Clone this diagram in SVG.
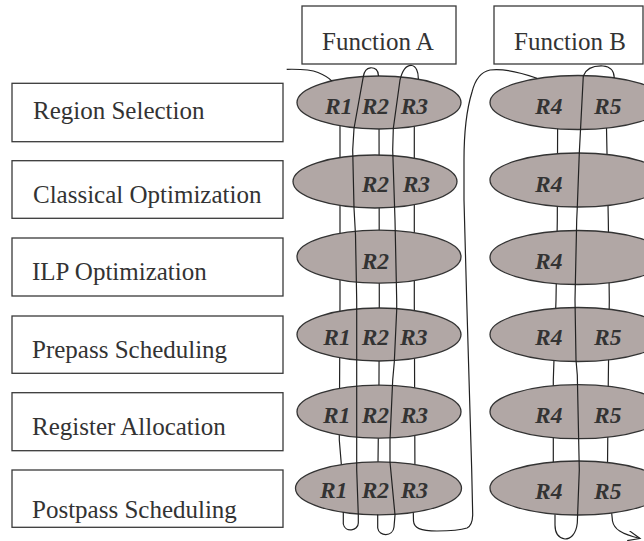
<svg xmlns="http://www.w3.org/2000/svg" width="644" height="541" viewBox="0 0 644 541">
<style>
.box{fill:#fff;stroke:#3a3a3a;stroke-width:1.3}
.lbl{font-family:"Liberation Serif","Times New Roman",serif;font-size:25px;fill:#333}
.reg{fill:#b1a7a5;stroke:#333;stroke-width:1.3}
.rt{font-family:"Liberation Serif","Times New Roman",serif;font-size:23.5px;font-weight:bold;font-style:italic;fill:#333}
.ln{fill:none;stroke:#222;stroke-width:1.2}
</style>
<defs>
<marker id="arr" markerUnits="userSpaceOnUse" markerWidth="14" markerHeight="12" refX="12" refY="5" orient="auto">
<path d="M0,0 L12,5 L0,10" fill="none" stroke="#222" stroke-width="1.2"/>
</marker>
</defs>

<g id="function-a"><rect class="box" x="302" y="6" width="154" height="58"/><text class="lbl" x="322" y="50">Function A</text></g>
<g id="function-b"><rect class="box" x="494" y="6" width="149" height="58"/><text class="lbl" x="514" y="50">Function B</text></g>

<g id="region-selection"><rect class="box" x="12" y="83.3" width="271" height="58.4"/><text class="lbl" x="33" y="119.3">Region Selection</text></g>
<g id="classical-optimization"><rect class="box" x="12" y="160.7" width="271" height="57.6"/><text class="lbl" x="33" y="203.3">Classical Optimization</text></g>
<g id="ilp-optimization"><rect class="box" x="12" y="238" width="271" height="58"/><text class="lbl" x="32" y="280">ILP Optimization</text></g>
<g id="prepass-scheduling"><rect class="box" x="12" y="316" width="271" height="57.3"/><text class="lbl" x="32" y="358">Prepass Scheduling</text></g>
<g id="register-allocation"><rect class="box" x="12" y="392.7" width="271" height="58"/><text class="lbl" x="32" y="435">Register Allocation</text></g>
<g id="postpass-scheduling"><rect class="box" x="12" y="470" width="271" height="57.3"/><text class="lbl" x="32" y="518">Postpass Scheduling</text></g>

<g id="connectors-behind">
<path class="ln" d="M340 102 L340 300 L339.3 440 L343.3 488"/>
<path class="ln" d="M379 102 L379.3 300 L379 380 L377.7 488"/>
<path class="ln" d="M414.3 102 L414.3 300 L415 488"/>
<path class="ln" d="M557.7 102 L557.3 220 L556 300 L553.3 380 L553.3 488"/>
<path class="ln" d="M606 102 L608.3 220 L609.3 300 L608.3 380 L607.3 488"/>
</g>

<g id="a-row1"><ellipse class="reg" cx="379" cy="102.5" rx="82" ry="26.5"/><text class="rt" x="325" y="114">R1</text><text class="rt" x="361.7" y="114">R2</text><text class="rt" x="400.7" y="114">R3</text></g>
<g id="a-row2"><ellipse class="reg" cx="375" cy="181.5" rx="82" ry="26.5"/><text class="rt" x="361.7" y="192.3">R2</text><text class="rt" x="402.7" y="192.3">R3</text></g>
<g id="a-row3"><ellipse class="reg" cx="379" cy="256.7" rx="82" ry="26.5"/><text class="rt" x="361.7" y="269.3">R2</text></g>
<g id="a-row4"><ellipse class="reg" cx="379" cy="334.5" rx="82" ry="26.5"/><text class="rt" x="323.3" y="345">R1</text><text class="rt" x="361.7" y="345">R2</text><text class="rt" x="400" y="345">R3</text></g>
<g id="a-row5"><ellipse class="reg" cx="379" cy="411.7" rx="82" ry="26.5"/><text class="rt" x="323" y="423.3">R1</text><text class="rt" x="361.7" y="423.3">R2</text><text class="rt" x="400.7" y="423.3">R3</text></g>
<g id="a-row6"><ellipse class="reg" cx="378.5" cy="488.3" rx="83" ry="26.5"/><text class="rt" x="320" y="497.5">R1</text><text class="rt" x="361.7" y="497.5">R2</text><text class="rt" x="400.7" y="497.5">R3</text></g>

<g id="b-row1"><ellipse class="reg" cx="578" cy="102.5" rx="88" ry="27"/><text class="rt" x="535" y="114.3">R4</text><text class="rt" x="594" y="114.3">R5</text></g>
<g id="b-row2"><ellipse class="reg" cx="578" cy="180" rx="88" ry="27"/><text class="rt" x="535" y="191.7">R4</text></g>
<g id="b-row3"><ellipse class="reg" cx="578" cy="257.5" rx="88" ry="27"/><text class="rt" x="535" y="269.3">R4</text></g>
<g id="b-row4"><ellipse class="reg" cx="578" cy="334.5" rx="88" ry="27"/><text class="rt" x="535" y="345">R4</text><text class="rt" x="594" y="345">R5</text></g>
<g id="b-row5"><ellipse class="reg" cx="578" cy="411.7" rx="88" ry="27"/><text class="rt" x="535" y="422.7">R4</text><text class="rt" x="594" y="422.7">R5</text></g>
<g id="b-row6"><ellipse class="reg" cx="578" cy="488" rx="88" ry="27"/><text class="rt" x="535" y="499">R4</text><text class="rt" x="594" y="499">R5</text></g>

<g id="connectors">
<path class="ln" d="M286.7 69.3 C300 69, 312 70, 318 72.5 C324 75, 329 78, 331.7 80.9"/>
<path class="ln" d="M378.5 76 C378.5 70, 375 67.5, 370.5 67.8 C366 68.2, 364 72, 363.3 76.7 L354 128.5 L352.7 150 L354 208 L355.5 235 L356.7 300 L356.7 470 L358.3 515 L358.3 523 C358.3 531, 345 533, 343.3 524 L343.3 512"/>
<path class="ln" d="M418.3 79 C418.5 72, 416 66, 411.7 65.5 C406 65, 402 72, 400 80 L393.3 128.5 L392.7 150 L395 220 L396.7 300 L396.7 310 L394.3 362 L392.7 380 L390 440 L390 462 L395 515 L394 527 C393 537, 379 537, 377.7 528 L377.7 514.5"/>
<path class="ln" d="M413.3 512.4 L413.5 521 C414 528, 420 531, 437 531 C450 531, 461 530, 467 528 C471 526, 472.5 522, 472.7 515 L471.7 470 L466.7 300 L464 200 L464 160 C464 130, 468 105, 472 92 C475 80, 480 72, 490 70 C505 68, 522 73, 537 78.2"/>
<path class="ln" d="M614.3 77.9 C614 70, 610 66.5, 603 66 C592 65.5, 586 69, 583.3 76 L579.3 153 L577.3 207 L576.7 220 L575 300 L576 360 L577.3 375 L579.3 470 L577.3 523 C576 535, 570 539, 565 539 C558 538, 555 533, 555 525 L555 514.4"/>
<path class="ln" d="M611.7 513.2 L612.5 521 C614 529, 621 534, 640 538.5" marker-end="url(#arr)"/>
</g>
</svg>
